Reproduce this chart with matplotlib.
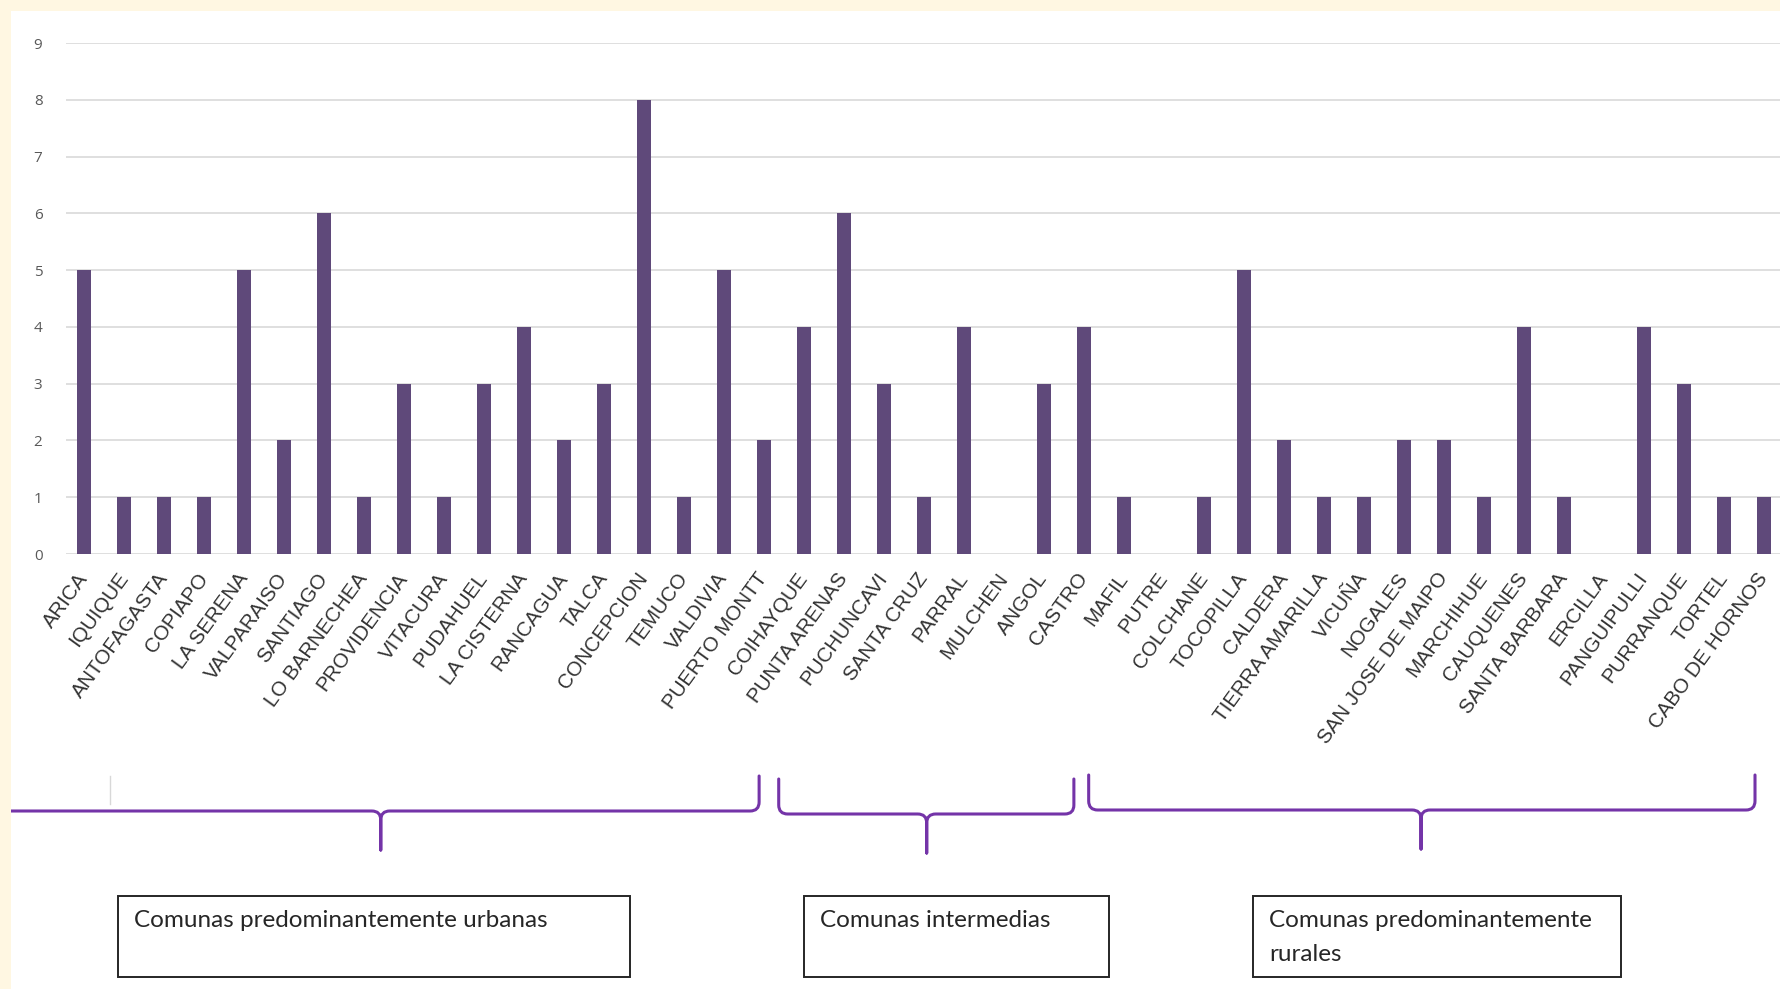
import matplotlib
matplotlib.use("Agg")
import matplotlib.pyplot as plt
from matplotlib.path import Path
from matplotlib.patches import PathPatch, Rectangle

# menciones por comuna
comunas = ["ARICA", "IQUIQUE", "ANTOFAGASTA", "COPIAPO", "LA SERENA", "VALPARAISO",
           "SANTIAGO", "LO BARNECHEA", "PROVIDENCIA", "VITACURA", "PUDAHUEL",
           "LA CISTERNA", "RANCAGUA", "TALCA", "CONCEPCION", "TEMUCO", "VALDIVIA",
           "PUERTO MONTT", "COIHAYQUE", "PUNTA ARENAS", "PUCHUNCAVI", "SANTA CRUZ",
           "PARRAL", "MULCHEN", "ANGOL", "CASTRO", "MAFIL", "PUTRE", "COLCHANE",
           "TOCOPILLA", "CALDERA", "TIERRA AMARILLA", "VICUÑA", "NOGALES",
           "SAN JOSE DE MAIPO", "MARCHIHUE", "CAUQUENES", "SANTA BARBARA", "ERCILLA",
           "PANGUIPULLI", "PURRANQUE", "TORTEL", "CABO DE HORNOS"]
menciones = [5, 1, 1, 1, 5, 2, 6, 1, 3, 1, 3, 4, 2, 3, 8, 1, 5, 2,
             4, 6, 3, 1, 4, 0, 3, 4,
             1, 0, 1, 5, 2, 1, 1, 2, 2, 1, 4, 1, 0, 4, 3, 1, 1]
grupos = ["Comunas predominantemente urbanas", "Comunas intermedias",
          "Comunas predominantemente\nrurales"]

W, H = 1781, 989
BAR = "#5F497A"
BRACE = "#7434A8"
CREAM = "#FFF7E2"

fig = plt.figure(figsize=(W / 100, H / 100), dpi=100, facecolor=CREAM)
fig.add_artist(Rectangle((11 / W, 0), 1 - 11 / W, 1 - 11 / H, transform=fig.transFigure,
                         facecolor="white", edgecolor="none", zorder=0))

# main bar chart
ax = fig.add_axes([66 / W, 1 - 554 / H, (W - 66) / W, (554 - 43) / H])
ax.set_facecolor("none")
x = range(len(comunas))
ax.bar(x, menciones, width=0.36, color=BAR, zorder=3)
ax.set_xlim(-0.45, len(comunas) - 0.57)
ax.set_ylim(0, 9)
ax.set_yticks(range(10))
ax.grid(axis="y", color="#D9D9D9", lw=1.2, zorder=0)
for s in ax.spines.values():
    s.set_visible(False)
ax.tick_params(axis="y", length=0, pad=17, labelsize=11, labelcolor="#595959")
ax.tick_params(axis="x", length=0, pad=15)
ax.set_xticks(list(x))
ax.set_xticklabels(comunas, rotation=54, ha="right", va="center", rotation_mode="anchor",
                   fontsize=14.8, family="Liberation Sans", color="#333333")
for lab in ax.get_yticklabels():
    lab.set_family("Open Sans")

# overlay in pixel coordinates for braces and boxes
ov = fig.add_axes([11 / W, 0, 1 - 11 / W, 1 - 11 / H])
ov.set_xlim(11, W)
ov.set_ylim(H, 11)
ov.set_axis_off()


def to_px(v):
    return ax.transData.transform((v, 0))[0]


def brace(x0, x1, xm, yb, hook=35, tip=39, r=9):
    verts = [(x0, yb - hook), (x0, yb - r), (x0, yb), (x0 + r, yb), (xm - r, yb),
             (xm, yb), (xm, yb + r), (xm, yb + tip),
             (x1, yb - hook), (x1, yb - r), (x1, yb), (x1 - r, yb), (xm + r, yb),
             (xm, yb), (xm, yb + r), (xm, yb + tip)]
    codes = [Path.MOVETO, Path.LINETO, Path.CURVE3, Path.CURVE3, Path.LINETO,
             Path.CURVE3, Path.CURVE3, Path.LINETO] * 2
    ov.add_patch(PathPatch(Path(verts, codes), facecolor="none", edgecolor=BRACE,
                           lw=2.2, capstyle="round", joinstyle="round"))


# brace spans in category units: (left, right, tip)
spans = [(-2.6, 16.88, 7.42), (17.37, 24.75, 21.07), (25.12, 41.78, 33.43)]
ybase = [811, 814, 810]
for (a, b, m), yb in zip(spans, ybase):
    brace(to_px(a), to_px(b), to_px(m), yb)

ov.plot([110, 110], [776, 804], color="#D8D8D8", lw=1)

# group boxes
boxes = [(118, 630), (804, 1109), (1253, 1621)]
for (bx0, bx1), txt in zip(boxes, grupos):
    ov.add_patch(Rectangle((bx0, 896), bx1 - bx0, 81, facecolor="white",
                           edgecolor="#262626", lw=1.4))
    ov.text(bx0 + 16, 910, txt, ha="left", va="top", fontsize=17.5, family="Lato",
            color="#262626", linespacing=1.75)

fig.savefig("out.png", dpi=100, facecolor=CREAM)
